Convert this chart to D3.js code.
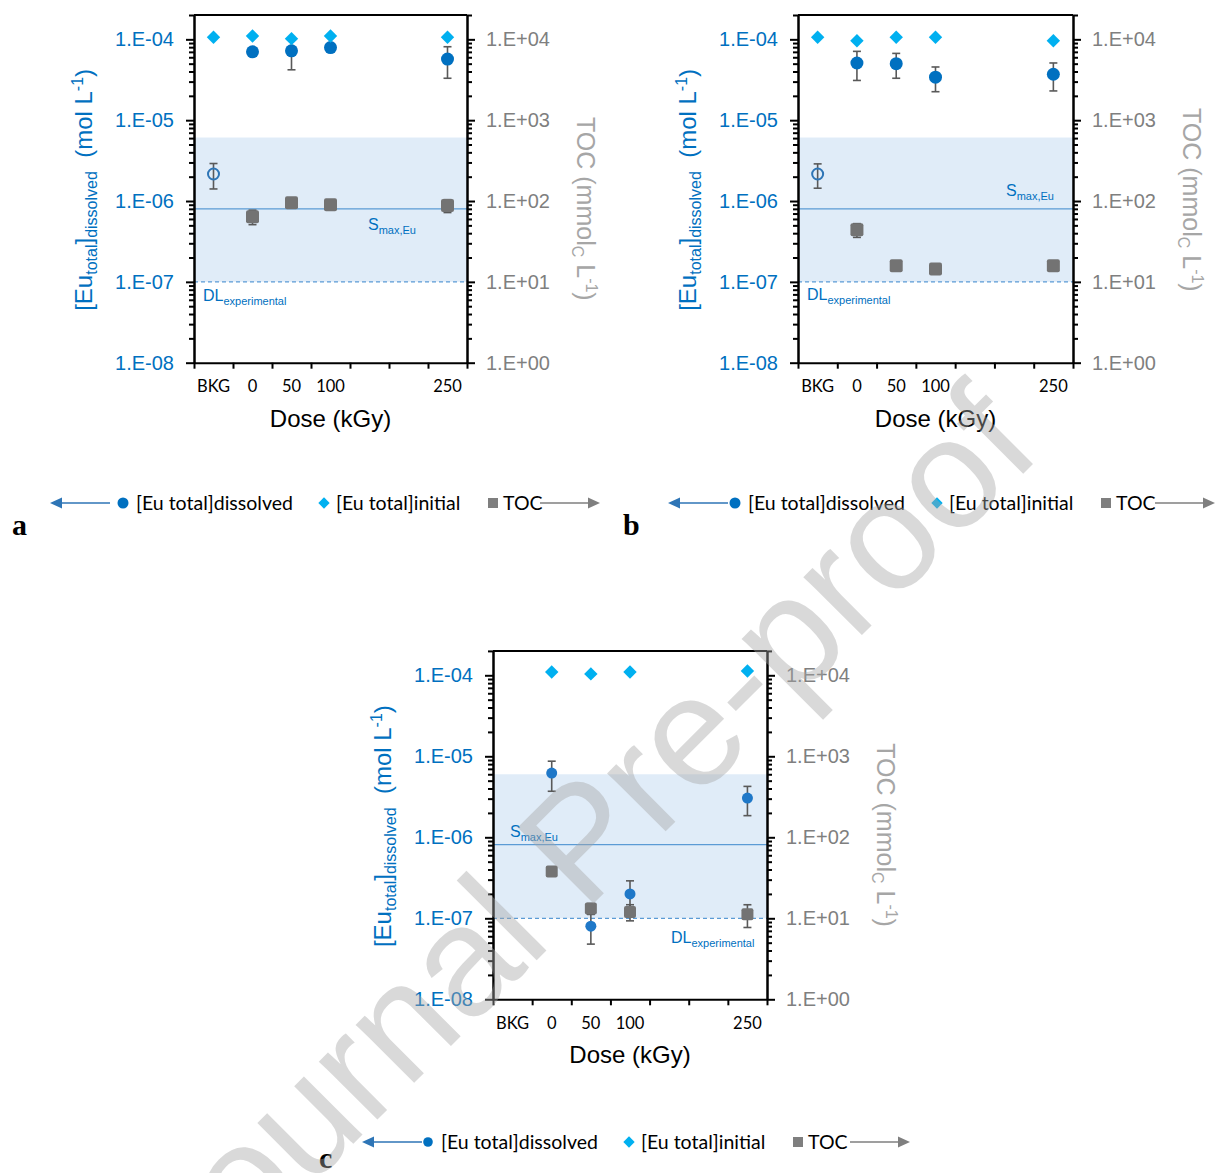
<!DOCTYPE html>
<html>
<head>
<meta charset="utf-8">
<script src="https://cdn.jsdelivr.net/npm/d3@7"></script>
<style>
  body { margin: 0; background: #fff; }
  svg { display: block; }
  text { white-space: pre; }
</style>
</head>
<body>
<svg id="chart" width="1217" height="1173"></svg>
<script>
// categories on the x axis (two empty slots before 250)
const categories = ["BKG", "0", "50", "100", "150", "200", "250"];
const tickLabels = ["BKG", "0", "50", "100", "", "", "250"];
const dosesAll = ["BKG", "0", "50", "100", "250"];
const dosesIrr = ["0", "50", "100", "250"];

// panel a
const initialA = [1.06e-4, 1.10e-4, 1.02e-4, 1.10e-4, 1.06e-4];
const dissolvedA = [7.0e-5, 7.2e-5, 7.9e-5, 5.7e-5];
const dissolvedErrA = [0.8e-5, 3.0e-5, 0.5e-5, 2.4e-5];
const bkgA = [2.16e-6];
const bkgErrA = [0.75e-6];
const tocA = [64, 95, 90, 88];
const tocErrA = [13, 8, 13, 16];

// panel b
const initialB = [1.06e-4, 9.6e-5, 1.06e-4, 1.06e-4, 9.6e-5];
const dissolvedB = [5.1e-5, 5.0e-5, 3.4e-5, 3.7e-5];
const dissolvedErrB = [2.0e-5, 1.7e-5, 1.15e-5, 1.4e-5];
const bkgB = [2.16e-6];
const bkgErrB = [0.72e-6];
const tocB = [44, 15.8, 14.4, 15.8];
const tocErrB = [8.5, 1.5, 1.8, 1.5];

// panel c (no background sample)
const initialC = [1.10e-4, 1.04e-4, 1.10e-4, 1.13e-4];
const dissolvedC = [6.2e-6, 8.0e-8, 2.0e-7, 3.05e-6];
const dissolvedErrC = [2.5e-6, 3.2e-8, 0.9e-7, 1.2e-6];
const tocC = [37.8, 13.2, 12.0, 11.2];
const tocErrC = [0, 2, 2.7, 3.5];

// reference levels
const smaxEu = [8.0e-7, 8.0e-7, 8.1e-7];
const bandTop = [6.1e-6, 6.1e-6, 6.0e-6];
const dlExperimental = 1e-7;

const blue = "#0070c0", lightBlue = "#00b0f0", lineBlue = "#5b9bd5";
const grey = "#737373", errGrey = "#595959";
const axisFont = "Liberation Sans, Arial, sans-serif";
const labelFont = "Lato, Carlito, sans-serif";

const svg = d3.select("#chart");

function expFmt(d) {
    const e = Math.round(Math.log10(d));
    return "1.E" + (e < 0 ? "-" : "+") + String(Math.abs(e)).padStart(2, "0");
}

function drawPanel(p) {
    const g = svg.append("g");
    const width = p.right - p.left;
    const mid = (p.top + p.bottom) / 2;

    const y = d3.scaleLog().domain([1e-8, 2e-4]).range([p.bottom, p.top]);
    const y2 = d3.scaleLog().domain([1, 2e4]).range([p.bottom, p.top]);
    const x = d3.scaleBand().domain(categories).range([p.left, p.right]).padding(0);
    const xEdge = d3.scaleLinear().domain([0, categories.length]).range([p.left, p.right]);
    const cx = d => x(d) + x.bandwidth() / 2;

    // shaded range + reference lines
    g.append("rect")
        .attr("x", p.left).attr("width", width)
        .attr("y", y(p.band)).attr("height", y(dlExperimental) - y(p.band))
        .attr("fill", "#e0ecf8");
    g.append("line")
        .attr("x1", p.left).attr("x2", p.right)
        .attr("y1", y(p.smax)).attr("y2", y(p.smax))
        .attr("stroke", lineBlue).attr("stroke-width", 1.3);
    g.append("line")
        .attr("x1", p.left).attr("x2", p.right)
        .attr("y1", y(dlExperimental)).attr("y2", y(dlExperimental))
        .attr("stroke", lineBlue).attr("stroke-width", 1.2)
        .attr("stroke-dasharray", "4,3");

    // error bars
    function errBars(doses, vals, errs, scale) {
        const rows = doses.map((d, i) => ({ d, v: vals[i], e: errs[i] })).filter(r => r.e > 0);
        const eg = g.append("g").attr("stroke", errGrey).attr("stroke-width", 1.6);
        rows.forEach(r => {
            const lo = scale(r.v - r.e), hi = scale(r.v + r.e);
            eg.append("line").attr("x1", cx(r.d)).attr("x2", cx(r.d)).attr("y1", lo).attr("y2", hi);
            eg.append("line").attr("x1", cx(r.d) - 4).attr("x2", cx(r.d) + 4).attr("y1", lo).attr("y2", lo);
            eg.append("line").attr("x1", cx(r.d) - 4).attr("x2", cx(r.d) + 4).attr("y1", hi).attr("y2", hi);
        });
    }

    errBars(dosesIrr, p.dissolved, p.dissolvedErr, y);
    if (p.bkg) errBars(["BKG"], p.bkg, p.bkgErr, y);
    errBars(dosesIrr, p.toc, p.tocErr, y2);

    // dissolved Eu
    g.append("g").selectAll("circle")
        .data(p.dissolved)
        .join("circle")
        .attr("cx", (d, i) => cx(dosesIrr[i]))
        .attr("cy", d => y(d))
        .attr("r", p.r)
        .attr("fill", p.dotColor);
    if (p.bkg) {
        g.append("circle")
            .attr("cx", cx("BKG")).attr("cy", y(p.bkg[0]))
            .attr("r", 5.5)
            .attr("fill", "none").attr("stroke", "#2e75b6").attr("stroke-width", 2);
    }

    // initial Eu
    g.append("g").selectAll("path")
        .data(p.initial)
        .join("path")
        .attr("d", d3.symbol(d3.symbolSquare, 90)())
        .attr("transform", (d, i) => `translate(${cx(p.initialDoses[i])},${y(d)}) rotate(45)`)
        .attr("fill", lightBlue);

    // TOC (secondary axis)
    g.append("g").selectAll("rect")
        .data(p.toc)
        .join("rect")
        .attr("x", (d, i) => cx(dosesIrr[i]) - p.sq / 2)
        .attr("y", d => y2(d) - p.sq / 2)
        .attr("width", p.sq).attr("height", p.sq)
        .attr("rx", 2)
        .attr("fill", grey);

    // axes
    const majorL = d3.range(-8, -3).map(e => Math.pow(10, e));
    const minorL = [];
    d3.range(-8, -3).forEach(e => d3.range(2, 10).forEach(k => {
        const v = k * Math.pow(10, e);
        if (v <= 2e-4) minorL.push(v);
    }));
    const majorR = d3.range(0, 5).map(e => Math.pow(10, e));
    const minorR = [];
    d3.range(0, 5).forEach(e => d3.range(2, 10).forEach(k => {
        const v = k * Math.pow(10, e);
        if (v <= 2e4) minorR.push(v);
    }));

    const leftMinor = g.append("g").attr("transform", `translate(${p.left},0)`)
        .call(d3.axisLeft(y).tickValues(minorL).tickSize(5).tickSizeOuter(0).tickFormat(""));
    const leftMajor = g.append("g").attr("transform", `translate(${p.left},0)`)
        .call(d3.axisLeft(y).tickValues(majorL).tickSize(8).tickSizeOuter(0).tickPadding(12).tickFormat(expFmt));
    leftMajor.selectAll("text").attr("fill", blue).attr("font-size", 20).attr("font-family", axisFont);

    const rightMinor = g.append("g").attr("transform", `translate(${p.right},0)`)
        .call(d3.axisRight(y2).tickValues(minorR).tickSize(5).tickSizeOuter(0).tickFormat(""));
    const rightMajor = g.append("g").attr("transform", `translate(${p.right},0)`)
        .call(d3.axisRight(y2).tickValues(majorR).tickSize(8).tickSizeOuter(0).tickPadding(11).tickFormat(expFmt));
    rightMajor.selectAll("text").attr("fill", "#7f7f7f").attr("font-size", 20).attr("font-family", axisFont);

    const xTicks = g.append("g").attr("transform", `translate(0,${p.bottom})`)
        .call(d3.axisBottom(xEdge).tickValues(d3.range(categories.length + 1)).tickSize(6).tickSizeOuter(0).tickFormat(""));
    const xLabels = g.append("g").attr("transform", `translate(0,${p.bottom})`)
        .call(d3.axisBottom(x).tickSize(0).tickPadding(18).tickFormat((d, i) => tickLabels[i]));
    xLabels.select(".domain").remove();
    xLabels.selectAll("text").attr("fill", "#000").attr("font-size", 16.5).attr("font-family", labelFont);

    [leftMinor, leftMajor, rightMinor, rightMajor, xTicks].forEach(a => {
        a.selectAll("line").attr("stroke", "#000").attr("stroke-width", 2);
        a.selectAll(".domain").attr("stroke", "#000").attr("stroke-width", 2);
    });
    g.append("line")
        .attr("x1", p.left).attr("x2", p.right)
        .attr("y1", p.top).attr("y2", p.top)
        .attr("stroke", "#000").attr("stroke-width", 2);

    // axis titles
    g.append("text")
        .attr("x", (p.left + p.right) / 2).attr("y", p.bottom + 64)
        .attr("text-anchor", "middle")
        .attr("font-family", axisFont).attr("font-size", 24)
        .text("Dose (kGy)");

    const lt = g.append("text")
        .attr("transform", `translate(${p.left - 102},${mid + 1}) rotate(-90)`)
        .attr("text-anchor", "middle")
        .attr("font-family", axisFont).attr("fill", blue);
    lt.append("tspan").attr("font-size", 24).text("[Eu");
    lt.append("tspan").attr("font-size", 16).attr("dy", 5).text("total");
    lt.append("tspan").attr("font-size", 24).attr("dy", -5).text("]");
    lt.append("tspan").attr("font-size", 16).attr("dy", 5).text("dissolved");
    lt.append("tspan").attr("font-size", 24).attr("dy", -5).text("  (mol L");
    lt.append("tspan").attr("font-size", 16).attr("dy", -9).text("-1");
    lt.append("tspan").attr("font-size", 24).attr("dy", 9).text(")");

    const rt = g.append("text")
        .attr("transform", `translate(${p.right + 110},${mid + p.rtShift}) rotate(90)`)
        .attr("text-anchor", "middle")
        .attr("font-family", axisFont).attr("fill", "#a6a6a6");
    rt.append("tspan").attr("font-size", 25).text("TOC (mmol");
    rt.append("tspan").attr("font-size", 16).attr("dy", 5).text("C");
    rt.append("tspan").attr("font-size", 25).attr("dy", -5).text(" L");
    rt.append("tspan").attr("font-size", 16).attr("dy", -9).text("-1");
    rt.append("tspan").attr("font-size", 25).attr("dy", 9).text(")");

    // level labels
    const sl = g.append("text")
        .attr("x", p.smaxLabel[0]).attr("y", p.smaxLabel[1])
        .attr("font-family", axisFont).attr("fill", blue);
    sl.append("tspan").attr("font-size", 16).text("S");
    sl.append("tspan").attr("font-size", 11).attr("dy", 4).text("max,Eu");

    const dl = g.append("text")
        .attr("x", p.dlLabel[0]).attr("y", p.dlLabel[1])
        .attr("font-family", axisFont).attr("fill", blue);
    dl.append("tspan").attr("font-size", 16).text("DL");
    dl.append("tspan").attr("font-size", 11).attr("dy", 4).text("experimental");
}

function drawLegend(l) {
    const g = svg.append("g").attr("font-family", labelFont).attr("font-size", 19.5);
    const yc = l.y;
    g.append("line").attr("x1", l.arrowL + 10).attr("x2", l.arrowL + 60).attr("y1", yc).attr("y2", yc)
        .attr("stroke", "#2e75b6").attr("stroke-width", 1.5);
    g.append("path").attr("d", `M${l.arrowL},${yc} l12,-5.5 l0,11 z`).attr("fill", "#2e75b6");
    g.append("circle").attr("cx", l.circle).attr("cy", yc).attr("r", l.dot).attr("fill", blue);
    g.append("text").attr("x", l.circle + 13).attr("y", yc + 7).text("[Eu total]dissolved");
    g.append("path").attr("d", d3.symbol(d3.symbolSquare, 64)())
        .attr("transform", `translate(${l.diamond},${yc}) rotate(45)`).attr("fill", lightBlue);
    g.append("text").attr("x", l.diamond + 12).attr("y", yc + 7).text("[Eu total]initial");
    g.append("rect").attr("x", l.square - 5).attr("y", yc - 5).attr("width", 10).attr("height", 10).attr("fill", "#7f7f7f");
    g.append("text").attr("x", l.square + 10).attr("y", yc + 7).text("TOC");
    g.append("line").attr("x1", l.arrowR - 60).attr("x2", l.arrowR - 10).attr("y1", yc).attr("y2", yc)
        .attr("stroke", "#7f7f7f").attr("stroke-width", 1.5);
    g.append("path").attr("d", `M${l.arrowR},${yc} l-12,-5.5 l0,11 z`).attr("fill", "#7f7f7f");
    g.append("text").attr("x", l.letter[0]).attr("y", l.letter[1])
        .attr("font-family", "Liberation Serif, serif").attr("font-weight", "bold").attr("font-size", 30)
        .text(l.name);
}

drawPanel({
    left: 194, right: 467, top: 15, bottom: 362.7,
    initial: initialA, initialDoses: dosesAll,
    dissolved: dissolvedA, dissolvedErr: dissolvedErrA,
    bkg: bkgA, bkgErr: bkgErrA,
    toc: tocA, tocErr: tocErrA,
    smax: smaxEu[0], band: bandTop[0],
    r: 6.5, sq: 13, dotColor: blue, rtShift: 20,
    smaxLabel: [368, 230], dlLabel: [203, 301]
});
drawPanel({
    left: 798, right: 1073, top: 15, bottom: 362.7,
    initial: initialB, initialDoses: dosesAll,
    dissolved: dissolvedB, dissolvedErr: dissolvedErrB,
    bkg: bkgB, bkgErr: bkgErrB,
    toc: tocB, tocErr: tocErrB,
    smax: smaxEu[1], band: bandTop[1],
    r: 6.5, sq: 13, dotColor: blue, rtShift: 11,
    smaxLabel: [1006, 196], dlLabel: [807, 300]
});
drawPanel({
    left: 493, right: 767, top: 650.9, bottom: 999.3,
    initial: initialC, initialDoses: dosesIrr,
    dissolved: dissolvedC, dissolvedErr: dissolvedErrC,
    bkg: null, bkgErr: null,
    toc: tocC, tocErr: tocErrC,
    smax: smaxEu[2], band: bandTop[2],
    r: 5.5, sq: 12, dotColor: "#1f78c8", rtShift: 10,
    smaxLabel: [510, 837], dlLabel: [671, 943]
});

drawLegend({ y: 503, arrowL: 50, circle: 123, diamond: 324, square: 493, arrowR: 600, dot: 5.5, letter: [12, 535], name: "a" });
drawLegend({ y: 503, arrowL: 668, circle: 735, diamond: 937, square: 1106, arrowR: 1215, dot: 5.5, letter: [623, 535], name: "b" });
drawLegend({ y: 1142, arrowL: 362, circle: 428, diamond: 629, square: 798, arrowR: 910, dot: 4.8, letter: [319, 1168], name: "c" });

// watermark over everything
svg.append("text")
    .attr("transform", "translate(192,1305) rotate(-45)")
    .attr("font-family", axisFont).attr("font-size", 156)
    .attr("fill", "#a6a6a6").attr("opacity", 0.42)
    .attr("pointer-events", "none")
    .text("Journal Pre-proof");
</script>
</body>
</html>
